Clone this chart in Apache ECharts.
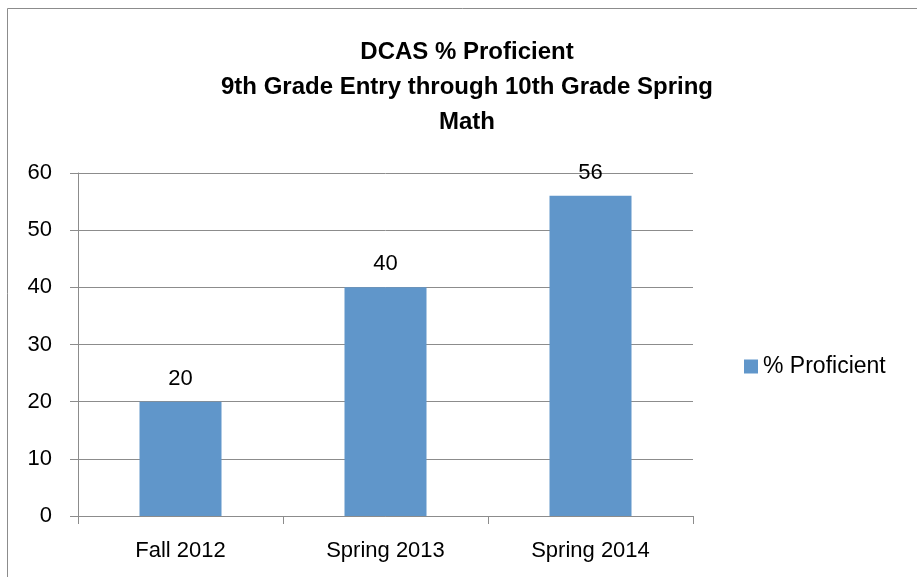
<!DOCTYPE html>
<html>
<head>
<meta charset="utf-8">
<script src="https://cdn.jsdelivr.net/npm/echarts@6/dist/echarts.min.js"></script>
<style>
  html, body { margin: 0; padding: 0; background: #fff; }
  #chart { width: 917px; height: 577px; }
</style>
</head>
<body>
<div id="chart"></div>
<script>
const categories = ["Fall 2012", "Spring 2013", "Spring 2014"];
const proficient = [20, 40, 56];
const titleLines = ["DCAS % Proficient", "9th Grade Entry through 10th Grade Spring", "Math"];

const font = "Liberation Sans";
const chart = echarts.init(document.getElementById("chart"), null, { renderer: "canvas" });

chart.setOption({
  animation: false,
  backgroundColor: "#fff",
  textStyle: { fontFamily: font },
  graphic: [{
    type: "rect",
    shape: { x: 7.5, y: 8.5, width: 1000, height: 1000 },
    style: { fill: "none", stroke: "#8c8c8c", lineWidth: 1 },
    silent: true
  }],
  title: {
    text: titleLines.join("\n"),
    left: 467,
    textAlign: "center",
    top: 35,
    padding: 0,
    textStyle: { fontSize: 24, fontWeight: "bold", color: "#000", lineHeight: 35, fontFamily: font }
  },
  legend: {
    left: 739,
    top: 350,
    itemWidth: 14,
    itemHeight: 14,
    itemGap: 6,
    icon: "rect",
    textStyle: { fontSize: 23, color: "#000", fontFamily: font }
  },
  grid: { left: 78, top: 173, width: 615, height: 343, containLabel: false },
  xAxis: {
    type: "category",
    data: categories,
    axisLine: { lineStyle: { color: "#8c8c8c", width: 1 } },
    axisTick: { show: true, length: 8, alignWithLabel: false, lineStyle: { color: "#8c8c8c" } },
    axisLabel: { fontSize: 22, color: "#000", margin: 24 }
  },
  yAxis: {
    type: "value",
    min: 0,
    max: 60,
    interval: 10,
    axisLine: { show: true, lineStyle: { color: "#8c8c8c", width: 1 } },
    axisTick: { show: true, length: 8, lineStyle: { color: "#8c8c8c" } },
    axisLabel: { fontSize: 22, color: "#000", margin: 26 },
    splitLine: { lineStyle: { color: "#8c8c8c", width: 1 } }
  },
  series: [{
    name: "% Proficient",
    type: "bar",
    data: proficient,
    barWidth: "40%",
    itemStyle: { color: "#6096CA" },
    label: { show: true, position: "top", distance: 12, fontSize: 22, color: "#000", fontFamily: font }
  }]
});
</script>
</body>
</html>
